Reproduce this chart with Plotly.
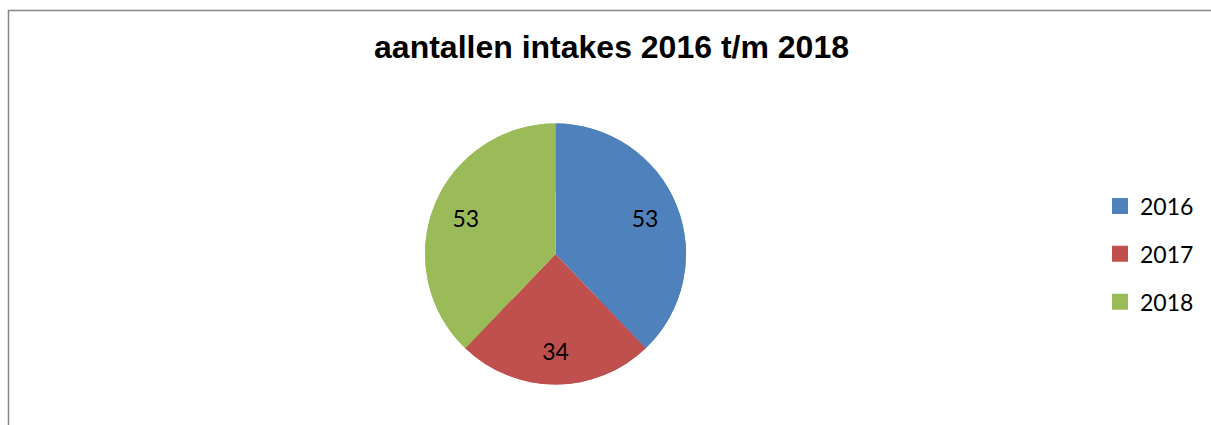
import plotly.graph_objects as go

# Data
years = ["2016", "2017", "2018"]
intakes = [53, 34, 53]
colors = ["#4F81BD", "#C0504D", "#9BBB59"]
title_text = "aantallen intakes 2016 t/m 2018"

W, H = 1211, 425
label_font = "Lato, 'Open Sans', sans-serif"

fig = go.Figure()

# pie center ~ (555.5, 254), radius ~130.5 px
cx, cy, r = 555.5, 254.0, 130.5
dom = dict(x=[(cx - r) / W, (cx + r) / W], y=[(H - cy - r) / H, (H - cy + r) / H])

# full pie (no text)
fig.add_trace(go.Pie(
    labels=years, values=intakes, sort=False, direction="clockwise", rotation=0,
    marker=dict(colors=colors, line=dict(color="white", width=0)),
    textinfo="none", showlegend=False, domain=dom, hoverinfo="label+value",
))
# ring on top, only to place value labels further out (like Excel)
fig.add_trace(go.Pie(
    labels=years, values=intakes, sort=False, direction="clockwise", rotation=0,
    hole=0.48,
    marker=dict(colors=colors, line=dict(color="white", width=0)),
    textinfo="value", textposition="inside", insidetextorientation="horizontal",
    textfont=dict(family=label_font, size=23, color="black"),
    showlegend=False, domain=dom, hoverinfo="label+value",
))

# legend entries
for yr, col in zip(years, colors):
    fig.add_trace(go.Scatter(
        x=[None], y=[None], mode="markers", name=yr,
        marker=dict(symbol="square", size=16, color=col),
        legendgroup=yr, showlegend=True, hoverinfo="skip",
    ))

fig.update_layout(
    width=W, height=H,
    margin=dict(l=0, r=0, t=0, b=0),
    paper_bgcolor="white",
    plot_bgcolor="white",
    xaxis=dict(visible=False),
    yaxis=dict(visible=False),
    title=dict(
        text="<b>" + title_text + "</b>",
        font=dict(family="Liberation Sans, Arial, sans-serif", size=32, color="black"),
        x=611.5 / W, xanchor="center", xref="paper",
        y=1 - 47 / H, yanchor="middle", yref="container",
    ),
    legend=dict(
        x=1100 / W, xanchor="left",
        y=1 - 254 / H, yanchor="middle",
        font=dict(family=label_font, size=23, color="black"),
        tracegroupgap=15,
        bgcolor="rgba(0,0,0,0)",
        itemwidth=30,
    ),
    shapes=[dict(
        type="rect", xref="paper", yref="paper",
        x0=8.5 / W, x1=1.02, y0=-0.02, y1=1 - 10.5 / H,
        line=dict(color="#868686", width=1.5),
        fillcolor="rgba(0,0,0,0)",
    )],
)

fig.write_html("out.html")
